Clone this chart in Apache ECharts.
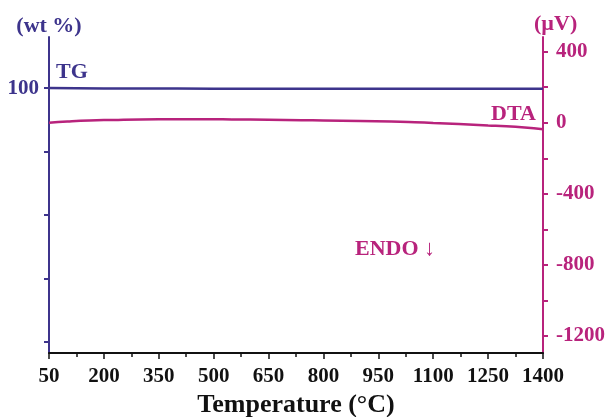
<!DOCTYPE html>
<html>
<head>
<meta charset="utf-8">
<script src="https://cdn.jsdelivr.net/npm/echarts@6/dist/echarts.min.js"></script>
<style>
  html, body { margin: 0; padding: 0; background: #fff; }
  #chart { width: 605px; height: 417px; }
</style>
</head>
<body>
<div id="chart"></div>
<script>
// Temperature axis ticks (°C)
const tempTicks = [50, 200, 350, 500, 650, 800, 950, 1100, 1250, 1400];

// Thermogravimetric curve (wt %)
const tgTemps  = [50, 200, 400, 600, 800, 1000, 1200, 1400];
const tgValues = [100, 99.9, 99.85, 99.8, 99.8, 99.8, 99.78, 99.75];

// Differential thermal analysis curve (µV)
const dtaTemps  = [50, 100, 160, 225, 300, 400, 480, 550, 650, 740, 800, 900, 985, 1050, 1100, 1170, 1250, 1300, 1350, 1400];
const dtaValues = [0, 7, 13, 16, 19, 20, 20, 19, 17, 14, 13, 10, 7, 3, -1, -7, -15, -20, -27, -36];

// Left axis ticks (wt %) and right axis ticks (µV)
const wtTicks  = [20, 40, 60, 80, 100];
const wtLabels = [100];
const uvTicks  = [400, 200, 0, -200, -400, -600, -800, -1000, -1200];
const uvLabels = [400, 0, -400, -800, -1200];

const INDIGO = '#3d348c';
const MAGENTA = '#b8237c';
const FONT = '"Liberation Serif", "Times New Roman", serif';

const zip = (xs, ys) => xs.map((x, i) => [x, ys[i]]);
const plain = v => String(v);

const chart = echarts.init(document.getElementById('chart'), null, { renderer: 'canvas' });

chart.setOption({
  animation: false,
  backgroundColor: '#fff',
  grid: { left: 49, right: 62, top: 37, bottom: 64, containLabel: false, outerBoundsMode: 'none' },
  xAxis: {
    type: 'value',
    min: tempTicks[0], max: tempTicks[tempTicks.length - 1], interval: 150,
    name: 'Temperature (°C)',
    nameLocation: 'middle',
    nameGap: 39,
    nameTextStyle: { fontFamily: FONT, fontWeight: 'bold', fontSize: 26, color: '#111', verticalAlign: 'top' },
    axisLine: { show: true, onZero: false, lineStyle: { color: '#111', width: 2 } },
    axisTick: { show: true, inside: false, length: 6, lineStyle: { color: '#111', width: 1.5 } },
    minorTick: { show: true, splitNumber: 2, length: 4, lineStyle: { color: '#111', width: 1.5 } },
    axisLabel: { fontFamily: FONT, fontWeight: 'bold', fontSize: 21, color: '#111', margin: 13, formatter: plain },
    splitLine: { show: false }
  },
  yAxis: [
    {
      type: 'value',
      position: 'left',
      min: 16.5, max: 116.1,
      name: '(wt %)',
      nameLocation: 'end',
      nameGap: 0,
      nameTextStyle: { fontFamily: FONT, fontWeight: 'bold', fontSize: 22, color: INDIGO, align: 'center', padding: [0, 0, 0, 0] },
      axisLine: { show: true, onZero: false, lineStyle: { color: INDIGO, width: 2 } },
      axisTick: { show: true, inside: false, length: 5, customValues: wtTicks, lineStyle: { color: INDIGO, width: 2 } },
      axisLabel: { fontFamily: FONT, fontWeight: 'bold', fontSize: 21, color: INDIGO, margin: 10, customValues: wtLabels, formatter: plain },
      splitLine: { show: false }
    },
    {
      type: 'value',
      position: 'right',
      min: -1295.7, max: 482.7,
      name: '(µV)',
      nameLocation: 'end',
      nameGap: 2,
      nameTextStyle: { fontFamily: FONT, fontWeight: 'bold', fontSize: 22, color: MAGENTA, align: 'left', padding: [0, 0, 0, -9] },
      axisLine: { show: true, onZero: false, lineStyle: { color: MAGENTA, width: 2 } },
      axisTick: { show: true, inside: false, length: 5, customValues: uvTicks, lineStyle: { color: MAGENTA, width: 2 } },
      axisLabel: { fontFamily: FONT, fontWeight: 'bold', fontSize: 21, color: MAGENTA, margin: 13, customValues: uvLabels, formatter: plain },
      splitLine: { show: false }
    }
  ],
  series: [
    {
      name: 'TG',
      type: 'line',
      yAxisIndex: 0,
      data: zip(tgTemps, tgValues),
      smooth: true,
      showSymbol: false,
      lineStyle: { color: INDIGO, width: 2.5 }
    },
    {
      name: 'DTA',
      type: 'line',
      yAxisIndex: 1,
      data: zip(dtaTemps, dtaValues),
      smooth: true,
      showSymbol: false,
      lineStyle: { color: MAGENTA, width: 2.5 }
    }
  ],
  graphic: [
    { type: 'text', left: 56, top: 61, style: { text: 'TG', font: 'bold 22px ' + FONT, fill: INDIGO } },
    { type: 'text', left: 491, top: 103, style: { text: 'DTA', font: 'bold 22px ' + FONT, fill: MAGENTA } },
    { type: 'text', left: 355, top: 238, style: { text: 'ENDO ↓', font: 'bold 22px ' + FONT, fill: MAGENTA } }
  ]
});
</script>
</body>
</html>
